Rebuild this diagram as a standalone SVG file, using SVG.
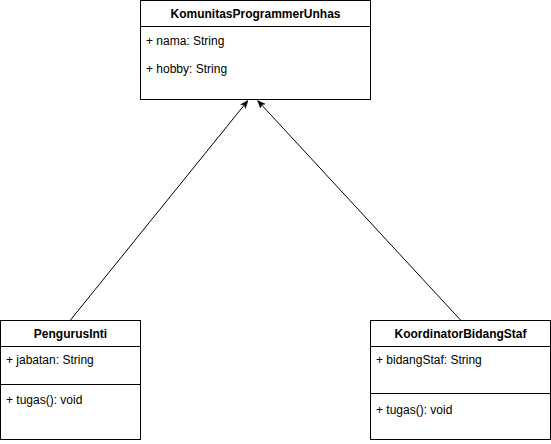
<svg xmlns="http://www.w3.org/2000/svg" width="551" height="444" viewBox="0 0 551 444">
<style>
.box{fill:#ffffff;stroke:#000000;stroke-width:1}
.ln{stroke:#000000;stroke-width:1;fill:none}
.t{font-family:"Liberation Sans",Arial,sans-serif;font-size:12px;fill:#000000}
.b{font-weight:bold;text-anchor:middle}
</style>
<defs>
<marker id="arr" viewBox="0 0 10 10" refX="9" refY="5" markerWidth="8" markerHeight="8" markerUnits="userSpaceOnUse" orient="auto">
<path d="M0,1 L10,5 L0,9 L2.5,5 Z" fill="#000000" stroke="#000000" stroke-width="0.5"/>
</marker>
</defs>
<rect width="551" height="444" fill="#ffffff"/>
<g id="connectors">
<line class="ln" x1="70.5" y1="320" x2="247.5" y2="101" marker-end="url(#arr)"/>
<line class="ln" x1="460.5" y1="320" x2="258" y2="101" marker-end="url(#arr)"/>
</g>
<g id="KomunitasProgrammerUnhas">
<rect class="box" x="140.5" y="0.5" width="230" height="99"/>
<line class="ln" x1="140.5" y1="26.5" x2="370.5" y2="26.5"/>
<text class="t b" x="255.5" y="17.5">KomunitasProgrammerUnhas</text>
<text class="t" x="146" y="45">+ nama: String</text>
<text class="t" x="146" y="73">+ hobby: String</text>
</g>
<g id="PengurusInti">
<rect class="box" x="0.5" y="320.5" width="140" height="119"/>
<line class="ln" x1="0.5" y1="346.5" x2="140.5" y2="346.5"/>
<line class="ln" x1="0.5" y1="384.5" x2="140.5" y2="384.5"/>
<text class="t b" x="70.5" y="337.5">PengurusInti</text>
<text class="t" x="6" y="364">+ jabatan: String</text>
<text class="t" x="6" y="404">+ tugas(): void</text>
</g>
<g id="KoordinatorBidangStaf">
<rect class="box" x="370.5" y="320.5" width="180" height="119"/>
<line class="ln" x1="370.5" y1="346.5" x2="550.5" y2="346.5"/>
<line class="ln" x1="370.5" y1="393.5" x2="550.5" y2="393.5"/>
<text class="t b" x="460.5" y="337.5">KoordinatorBidangStaf</text>
<text class="t" x="376" y="364">+ bidangStaf: String</text>
<text class="t" x="376" y="414">+ tugas(): void</text>
</g>
</svg>
